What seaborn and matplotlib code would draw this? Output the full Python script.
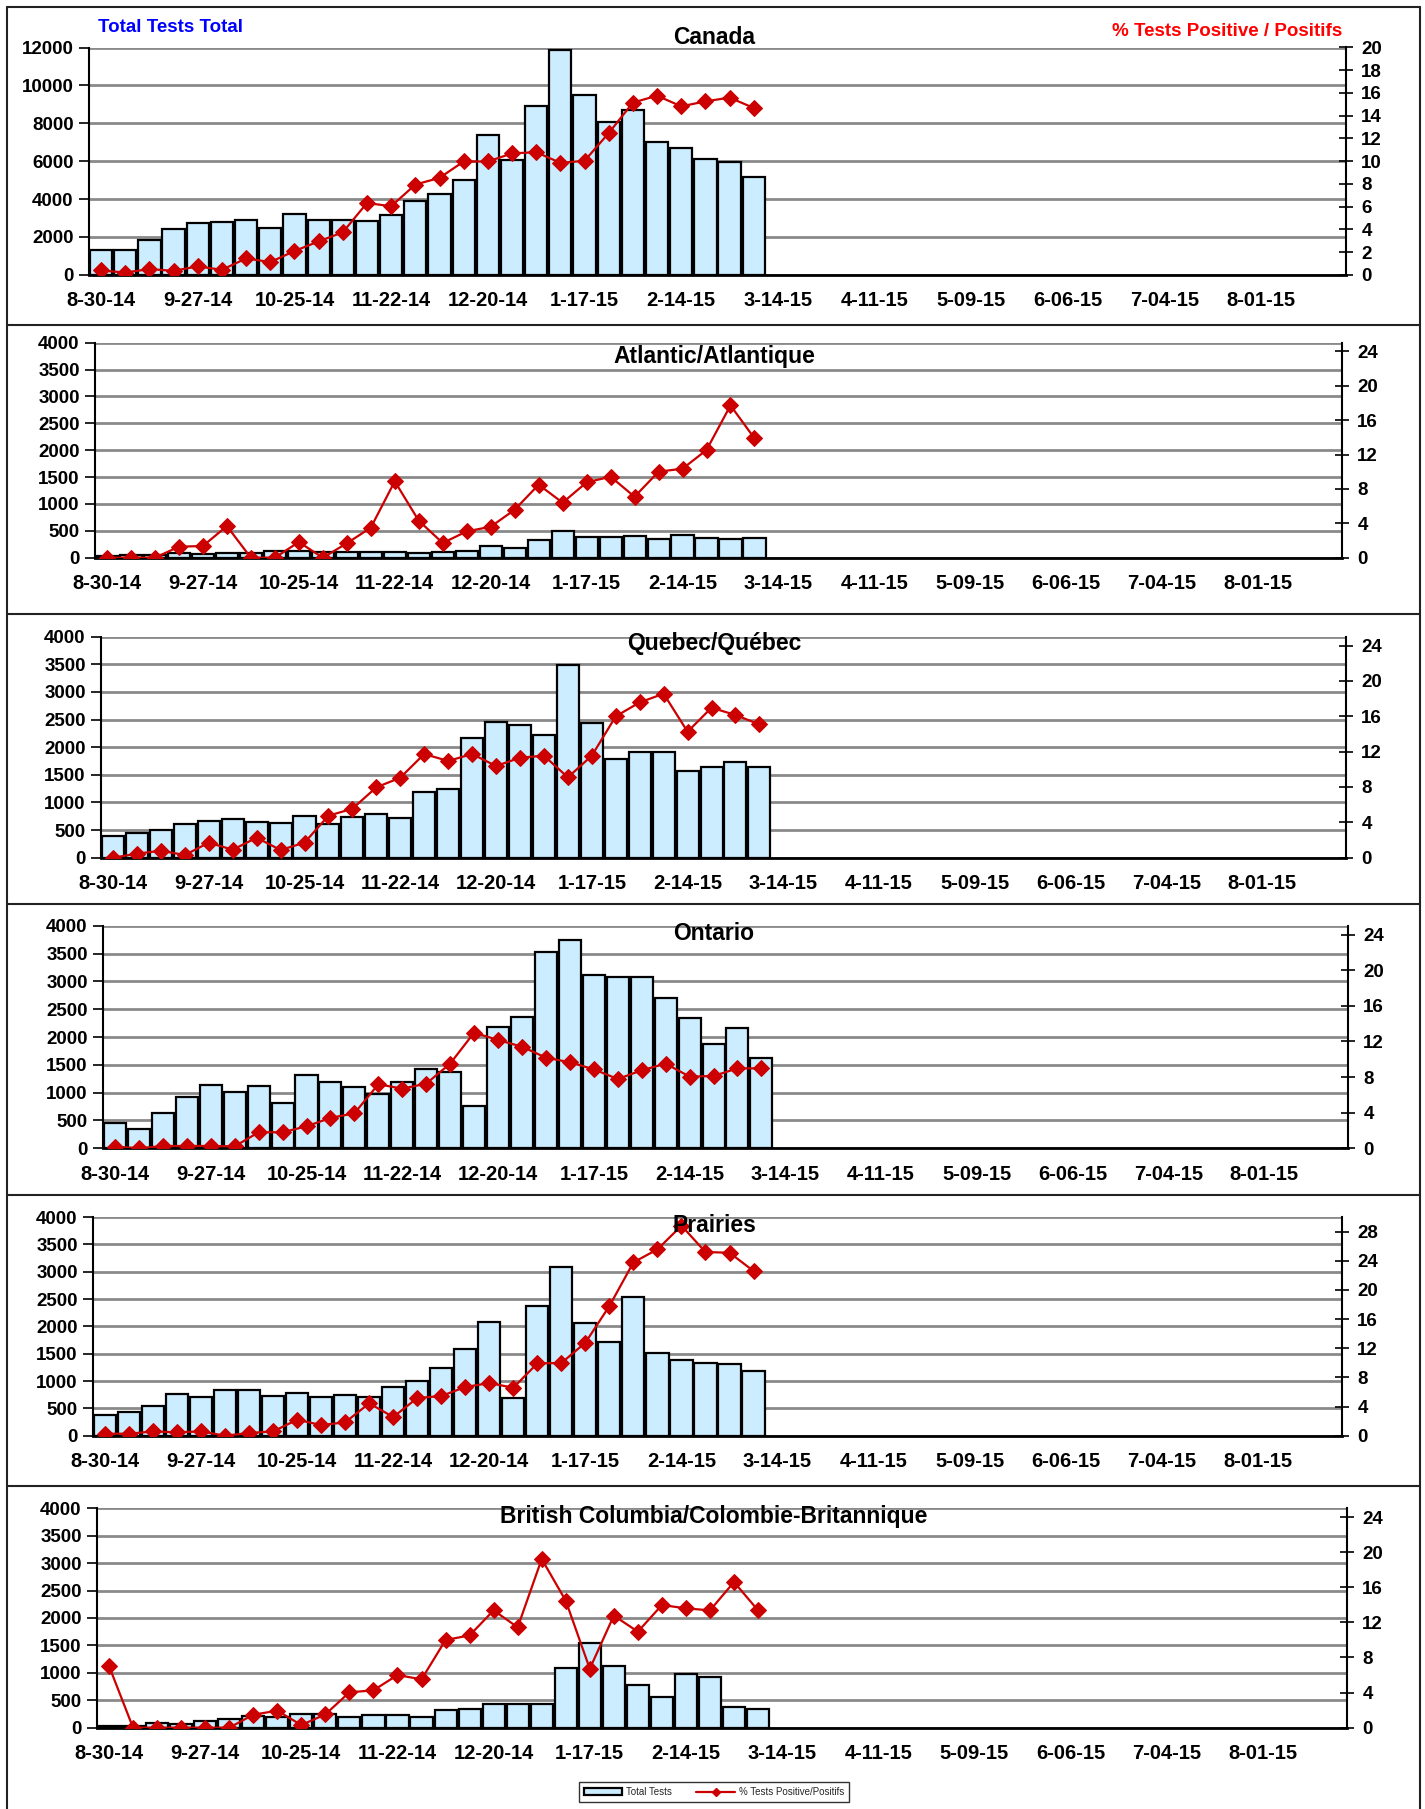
import numpy as np
import pandas as pd
import matplotlib
matplotlib.use("Agg")
import matplotlib.pyplot as plt
from matplotlib.patches import Patch
from matplotlib.lines import Line2D
import seaborn as sns

sns.set_theme(style="white")
plt.rcParams['font.family'] = ['Liberation Sans', 'DejaVu Sans']
plt.rcParams['font.weight'] = 'bold'

# ---------------- data ----------------
tick_labels = ["8-30-14", "9-27-14", "10-25-14", "11-22-14", "12-20-14", "1-17-15",
               "2-14-15", "3-14-15", "4-11-15", "5-09-15", "6-06-15", "7-04-15", "8-01-15"]
n_weeks = 52

canada_tests = [1320, 1320, 1820, 2440, 2720, 2790, 2890, 2470, 3230, 2880, 2890, 2820, 3160, 3920,
                4290, 4990, 7360, 6050, 8890, 11880, 9510, 8060, 8700, 7020, 6670, 6090, 5930, 5140]
canada_pct = [0.38, 0.2, 0.5, 0.35, 0.74, 0.44, 1.44, 1.12, 2.09, 2.94, 3.74, 6.32, 6.03, 7.94,
              8.53, 9.97, 9.97, 10.68, 10.79, 9.85, 10.03, 12.47, 15.15, 15.76, 14.82, 15.26, 15.59, 14.68]

atl_tests = [40, 45, 50, 80, 75, 80, 85, 120, 120, 100, 110, 110, 110, 95,
             110, 130, 225, 180, 335, 490, 385, 385, 410, 355, 420, 360, 350, 360]
atl_pct = [0, 0, 0, 1.28, 1.36, 3.68, 0, 0, 1.82, 0, 1.67, 3.49, 8.88, 4.30,
           1.71, 3.06, 3.60, 5.58, 8.49, 6.40, 8.76, 9.42, 7.09, 10.0, 10.35, 12.52, 17.71, 13.88]

que_tests = [390, 450, 505, 615, 664, 706, 652, 621, 754, 615, 742, 796, 724, 1189,
             1243, 2172, 2462, 2401, 2226, 3481, 2443, 1786, 1906, 1906, 1563, 1635, 1725, 1635]
que_pct = [0, 0.45, 0.79, 0.30, 1.70, 0.90, 2.26, 0.87, 1.70, 4.75, 5.54, 7.96, 9.05, 11.73,
           10.94, 11.73, 10.37, 11.31, 11.54, 9.09, 11.54, 15.99, 17.57, 18.55, 14.25, 16.97, 16.14, 15.08]

ont_tests = [455, 353, 641, 922, 1144, 1018, 1114, 814, 1323, 1198, 1102, 970, 1192, 1425,
             1377, 766, 2180, 2353, 3533, 3743, 3108, 3072, 3072, 2695, 2341, 1868, 2168, 1629]
ont_pct = [0.19, 0, 0.26, 0.26, 0.26, 0.22, 1.80, 1.80, 2.47, 3.41, 3.93, 7.19, 6.70, 7.26,
           9.51, 12.99, 12.16, 11.41, 10.18, 9.66, 8.87, 7.78, 8.76, 9.51, 8.05, 8.12, 8.98, 8.98]

pra_tests = [384, 433, 543, 768, 707, 829, 835, 720, 787, 713, 750, 701, 896, 1000,
             1244, 1585, 2073, 689, 2366, 3085, 2061, 1713, 2537, 1506, 1378, 1329, 1311, 1183]
pra_pct = [0.27, 0.27, 0.59, 0.46, 0.59, 0, 0.37, 0.59, 2.19, 1.46, 1.83, 4.44, 2.56, 5.17,
           5.44, 6.68, 7.22, 6.58, 9.92, 9.97, 12.76, 17.79, 23.78, 25.56, 28.81, 25.19, 25.10, 22.59]

bc_tests = [40, 40, 85, 67, 128, 158, 213, 195, 243, 243, 200, 231, 225, 200,
            316, 347, 426, 438, 438, 1094, 1538, 1125, 778, 565, 985, 924, 383, 347]
bc_pct = [7.03, 0, 0, 0, 0, 0, 1.48, 1.94, 0.30, 1.52, 4.03, 4.26, 6.00, 5.51,
          9.99, 10.52, 13.37, 11.44, 19.22, 14.47, 6.72, 12.77, 10.94, 13.98, 13.60, 13.37, 16.60, 13.37]

titles = ["Canada", "Atlantic/Atlantique", "Quebec/Québec", "Ontario", "Prairies",
          "British Columbia/Colombie-Britannique"]
tests_series = [canada_tests, atl_tests, que_tests, ont_tests, pra_tests, bc_tests]
pct_series = [canada_pct, atl_pct, que_pct, ont_pct, pra_pct, bc_pct]

# ---------------- layout / style ----------------
W, H = 1425, 1809
BAR = "#CCECFF"
RED = "#CC0000"
GRID = "#8a8a8a"

# (left, right, top, bottom) in pixels
rects = [(89, 1346, 47.5, 274.8), (95, 1342, 342.7, 557.7), (101, 1346, 636.7, 857.7),
         (103, 1348, 925.7, 1148.3), (93, 1342, 1217, 1435.7), (97, 1347, 1508.3, 1727.7)]
left_lims = [(12000, 2000), (4000, 500), (4000, 500), (4000, 500), (4000, 500), (4000, 500)]
right_lims = [(20, 2, 20), (25, 4, 24), (25, 4, 24), (25, 4, 24), (30, 4, 28), (25, 4, 24)]
title_y = [37, 356, 644, 934, 1226, 1517]

fig = plt.figure(figsize=(W / 100, H / 100), dpi=100)
all_axes = []

for i in range(6):
    L, R, T, B = rects[i]
    ax = fig.add_axes([L / W, 1 - B / H, (R - L) / W, (B - T) / H])
    tests = tests_series[i]
    pct = pct_series[i]
    xs = np.arange(len(tests))
    df = pd.DataFrame({"week": xs, "tests": tests, "pct": pct})

    sns.barplot(data=df, x="week", y="tests", native_scale=True, color=BAR, saturation=1,
                edgecolor="black", linewidth=1.6, width=0.92, ax=ax, zorder=2)
    ymax, ystep = left_lims[i]
    ax.set_ylim(0, ymax)
    ax.set_yticks(np.arange(0, ymax + 1, ystep))
    ax.set_xlim(-0.5, n_weeks - 0.5)
    ax.set_axisbelow(True)
    ax.yaxis.grid(True, color=GRID, linewidth=2)
    ax.xaxis.grid(False)
    ax.set_xlabel("")
    ax.set_ylabel("")

    ax.set_xticks(np.arange(0, n_weeks, 4))
    ax.set_xticklabels(tick_labels)
    ax.set_xticks(np.arange(-0.5, n_weeks, 1), minor=True)
    ax.tick_params(axis="x", which="major", length=0, pad=12, labelsize=14.5)
    ax.tick_params(axis="x", which="minor", length=7, width=1.2, color="black", direction="out")
    ax.tick_params(axis="y", which="major", length=7, width=1.2, color="black", direction="out",
                   labelsize=13.5, pad=4)

    for s in ["top", "right"]:
        ax.spines[s].set_visible(False)
    ax.spines["left"].set_color("black")
    ax.spines["left"].set_linewidth(1.5)
    ax.spines["bottom"].set_color("black")
    ax.spines["bottom"].set_linewidth(2)
    ax.spines["bottom"].set_zorder(5)

    ax2 = ax.twinx()
    sns.lineplot(data=df, x="week", y="pct", ax=ax2, color=RED, marker="D", markersize=8,
                 markeredgecolor=RED, linewidth=1.6, legend=False)
    rmax, rstep, rtop = right_lims[i]
    ax2.set_ylim(0, rmax)
    ax2.set_yticks(np.arange(0, rtop + 1, rstep))
    ax2.set_xlim(-0.5, n_weeks - 0.5)
    ax2.grid(False)
    ax2.set_ylabel("")
    ax2.set_xlabel("")
    ax2.tick_params(axis="y", which="major", length=10, width=1.2, color="black",
                    direction="inout", labelsize=13.5, pad=6, right=True)
    for s in ["top", "left", "bottom"]:
        ax2.spines[s].set_visible(False)
    ax2.spines["right"].set_color("black")
    ax2.spines["right"].set_linewidth(1.5)
    all_axes.append((ax, ax2))

    fig.text(714 / W, 1 - title_y[i] / H, titles[i], ha="center", va="center",
             fontsize=16.5, fontweight="bold", color="black")

# make every tick label bold (after all plotting calls)
for ax, ax2 in all_axes:
    for lab in ax.get_xticklabels() + ax.get_yticklabels() + ax2.get_yticklabels():
        lab.set_fontweight("bold")
        lab.set_color("black")

# axis titles on the Canada panel
fig.text(98 / W, 1 - 27 / H, "Total Tests Total", ha="left", va="center",
         fontsize=13.5, fontweight="bold", color="#0000FF")
fig.text(1342 / W, 1 - 32 / H, "% Tests Positive / Positifs", ha="right", va="center",
         fontsize=13.5, fontweight="bold", color="#FF0000")

# panel frame lines
line_kw = dict(color="#222222", linewidth=1.5, transform=fig.transFigure)
for y in [7, 325, 614, 904, 1195, 1486]:
    fig.add_artist(Line2D([7 / W, 1420 / W], [1 - y / H, 1 - y / H], **line_kw))
fig.add_artist(Line2D([7 / W, 7 / W], [1 - 7 / H, 0], **line_kw))
fig.add_artist(Line2D([1420 / W, 1420 / W], [1 - 7 / H, 0], **line_kw))

# legend
handles = [Patch(facecolor=BAR, edgecolor="black", linewidth=1.6, label="Total Tests"),
           Line2D([0], [0], color=RED, marker="D", markersize=4, linewidth=1.6,
                  label="% Tests Positive/Positifs")]
leg = fig.legend(handles=handles, loc="center", bbox_to_anchor=(714 / W, 1 - 1792 / H),
                 ncol=2, prop={"size": 7, "weight": "normal"}, frameon=True, fancybox=False,
                 edgecolor="black", handlelength=4, columnspacing=2.5, borderpad=0.5,
                 handletextpad=0.4)
leg.get_frame().set_linewidth(1)

fig.savefig("out.png", dpi=100)
